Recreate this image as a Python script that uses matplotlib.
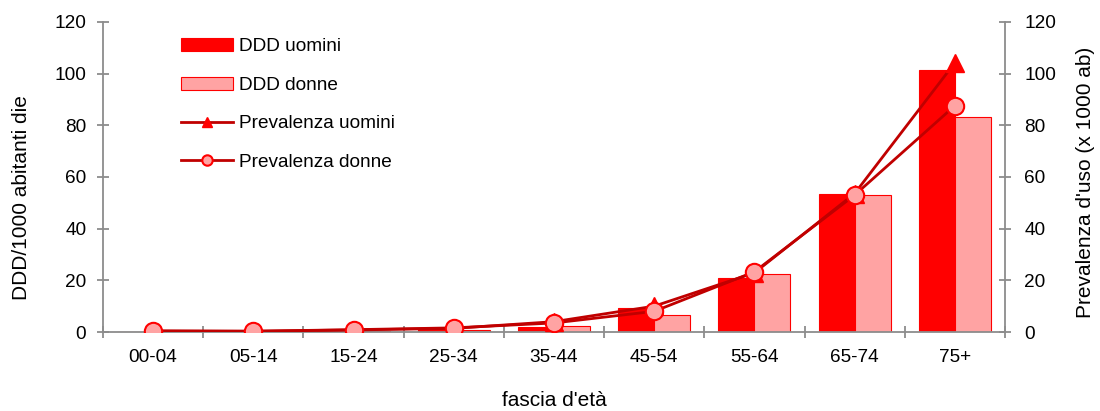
import numpy as np
import matplotlib
matplotlib.use("Agg")
import matplotlib.pyplot as plt
from matplotlib.ticker import FixedLocator

plt.rcParams['font.family'] = ['Liberation Sans', 'DejaVu Sans']

categories = ["00-04", "05-14", "15-24", "25-34", "35-44", "45-54", "55-64", "65-74", "75+"]
ddd_uomini = [0.1, 0.1, 0.3, 1.0, 2.1, 9.2, 20.8, 53.4, 101.4]
ddd_donne = [0.1, 0.1, 0.3, 0.9, 2.3, 6.5, 22.6, 53.2, 83.3]
prev_uomini = [0.4, 0.3, 0.8, 1.4, 4.0, 10.0, 22.9, 53.6, 104.2]
prev_donne = [0.4, 0.3, 0.9, 1.6, 3.5, 8.0, 23.3, 53.0, 87.6]
y_ticks = [0, 20, 40, 60, 80, 100, 120]

RED = "#FF0000"
PINK = "#FFA3A3"
DARK = "#C00000"
GREY = "#8C8C8C"
FS = 13.7
TITLE_FS = 15

fig = plt.figure(figsize=(11, 4.11), dpi=100)
ax = fig.add_axes([0.0936, 0.1922, 0.82, 0.7543])
ax2 = ax.twinx()

x = np.arange(len(categories))
w = 0.36
b1 = ax.bar(x - w / 2, ddd_uomini, w, color=RED, edgecolor=RED, linewidth=0.8,
            label="DDD uomini", zorder=2)
b2 = ax.bar(x + w / 2, ddd_donne, w, color=PINK, edgecolor=RED, linewidth=0.8,
            label="DDD donne", zorder=2)

l1, = ax2.plot(x, prev_uomini, color=DARK, lw=2.0, marker="^", markersize=13,
               markerfacecolor=RED, markeredgecolor=RED, label="Prevalenza uomini", zorder=3)
l2, = ax2.plot(x, prev_donne, color=DARK, lw=2.0, marker="o", markersize=12.5,
               markerfacecolor=PINK, markeredgecolor=RED, markeredgewidth=1.5,
               label="Prevalenza donne", zorder=4)

for a in (ax, ax2):
    a.set_xlim(-0.5, len(categories) - 0.5)
    a.set_ylim(0, 120)
    a.set_yticks(y_ticks)
    a.spines['top'].set_visible(False)
    for s in ('left', 'right', 'bottom'):
        a.spines[s].set_color(GREY)
        a.spines[s].set_linewidth(1.3)

ax.spines['right'].set_visible(False)
ax2.spines['left'].set_visible(False)
ax2.spines['bottom'].set_visible(False)

# category boundaries carry the tick marks, centres carry the labels
ax.xaxis.set_major_locator(FixedLocator(np.arange(-0.5, len(categories), 1.0)))
ax.xaxis.set_major_formatter(plt.NullFormatter())
ax.xaxis.set_minor_locator(FixedLocator(x))
ax.set_xticklabels(categories, minor=True)
ax.tick_params(axis='x', which='major', direction='inout', length=9, width=1.3, color=GREY)
ax.tick_params(axis='x', which='minor', length=0, pad=12, labelsize=FS)

ax.tick_params(axis='y', direction='inout', length=8, width=1.3, color=GREY, labelsize=FS, pad=8)
ax2.tick_params(axis='y', direction='inout', length=8, width=1.3, color=GREY, labelsize=FS, pad=10)

ax.set_ylabel("DDD/1000 abitanti die", fontsize=TITLE_FS, va='center')
ax.yaxis.set_label_coords(-0.0898, 0.435)
ax2.set_ylabel("Prevalenza d'uso (x 1000 ab)", fontsize=TITLE_FS, va='center')
ax2.yaxis.set_label_coords(1.089, 0.484)
ax.set_xlabel("fascia d'età", fontsize=TITLE_FS, labelpad=18)

ax.set_zorder(ax2.get_zorder() - 1)
ax.patch.set_visible(False)

ax2.legend([b1, b2, l1, l2],
           ["DDD uomini", "DDD donne", "Prevalenza uomini", "Prevalenza donne"],
           loc="upper left", bbox_to_anchor=(0.068, 1.004), frameon=False,
           fontsize=FS, handlelength=2.7, handletextpad=0.3, labelspacing=1.12,
           markerscale=0.6)

fig.savefig("out.png", dpi=100)
